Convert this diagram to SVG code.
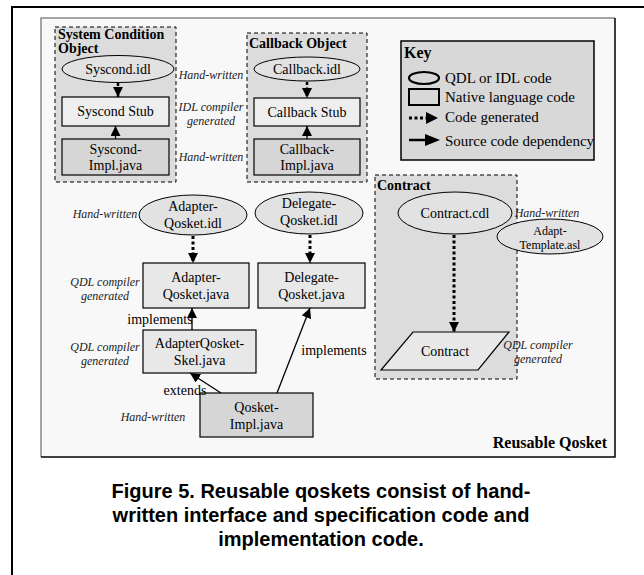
<svg xmlns="http://www.w3.org/2000/svg" width="644" height="575" viewBox="0 0 644 575">
<style>
.t{font-family:'Liberation Serif',serif;font-size:14px;fill:#000;text-anchor:middle}
.it{font-family:'Liberation Serif',serif;font-size:12px;font-style:italic;fill:#222;text-anchor:middle}
.b{font-family:'Liberation Serif',serif;font-size:14px;font-weight:bold;fill:#000}
.k{font-family:'Liberation Serif',serif;font-size:15px;fill:#000}
.grp{fill:#dcdcdc;stroke:#000;stroke-width:1;stroke-dasharray:4 3}
.ell{fill:#e2e2e2;stroke:#000;stroke-width:1}
.stub{fill:#eeeeee;stroke:#000;stroke-width:1.2}
.impl{fill:#d6d6d6;stroke:#000;stroke-width:1.2}
.gen{fill:#e8e8e8;stroke:#000;stroke-width:1.2}
.sol{stroke:#000;stroke-width:1.3;fill:none}
.dot{stroke:#000;stroke-width:3;stroke-dasharray:3 2.5;fill:none}
.cap{font-family:'Liberation Sans',Arial,sans-serif;font-size:20px;font-weight:bold;fill:#000;text-anchor:middle}
</style>
<defs>
<marker id="ah" markerUnits="userSpaceOnUse" markerWidth="10" markerHeight="10" refX="10" refY="5" orient="auto">
<path d="M0,0 L10,5 L0,10 z" fill="#000"/>
</marker>
</defs>
<rect x="0" y="0" width="644" height="575" fill="#fff"/>
<rect x="12" y="7" width="650" height="600" fill="none" stroke="#000" stroke-width="2"/>
<rect x="41" y="18" width="574" height="439" fill="#f8f8f8"/>
<path d="M41,457 L41,18 L615,18" fill="none" stroke="#888" stroke-width="1.5"/>
<path d="M41,457 L615,457 L615,18" fill="none" stroke="#000" stroke-width="1.5"/>

<g id="syscond-group">
<rect class="grp" x="55" y="27" width="121" height="155"/>
<text class="b" x="58" y="39">System Condition</text>
<text class="b" x="58" y="53">Object</text>
</g>
<g id="callback-group">
<rect class="grp" x="247" y="33" width="120" height="149"/>
<text class="b" x="249" y="48">Callback Object</text>
</g>
<g id="contract-group">
<rect class="grp" x="375" y="175" width="142" height="204"/>
<text class="b" x="377" y="190">Contract</text>
</g>

<g id="syscond-idl"><ellipse class="ell" cx="118" cy="69" rx="56" ry="13.5"/><text class="t" x="118" y="74">Syscond.idl</text></g>
<g id="syscond-stub"><rect class="stub" x="62" y="97" width="107" height="29"/><text class="t" x="115.5" y="116">Syscond Stub</text></g>
<g id="syscond-impl"><rect class="impl" x="62" y="139" width="107" height="36"/><text class="t" x="115.5" y="154">Syscond-</text><text class="t" x="115.5" y="170">Impl.java</text></g>

<g id="callback-idl"><ellipse class="ell" cx="307" cy="69" rx="53" ry="12"/><text class="t" x="307" y="74">Callback.idl</text></g>
<g id="callback-stub"><rect class="stub" x="254" y="98" width="106" height="28"/><text class="t" x="307" y="117">Callback Stub</text></g>
<g id="callback-impl"><rect class="impl" x="254" y="139" width="106" height="36"/><text class="t" x="307" y="154">Callback-</text><text class="t" x="307" y="170">Impl.java</text></g>

<g id="labels-top">
<text class="it" x="211" y="79">Hand-written</text>
<text class="it" x="211" y="111">IDL compiler</text>
<text class="it" x="211" y="125">generated</text>
<text class="it" x="211" y="161">Hand-written</text>
</g>

<g id="key">
<rect x="401" y="41" width="193" height="119" fill="#d8d8d8" stroke="#000" stroke-width="1.5"/>
<text x="404" y="58" font-family="'Liberation Serif', serif" font-size="16" font-weight="bold">Key</text>
<ellipse cx="424" cy="78" rx="15" ry="6" fill="none" stroke="#000" stroke-width="2.2"/>
<text class="k" x="445" y="83">QDL or IDL code</text>
<rect x="409" y="89" width="30" height="16" fill="none" stroke="#000" stroke-width="2"/>
<text class="k" x="445" y="102">Native language code</text>
<path d="M409,118 L426,118" stroke="#000" stroke-width="3" stroke-dasharray="3 2.5"/>
<path d="M426,112 L438,118 L426,124 z" fill="#000"/>
<text class="k" x="445" y="122">Code generated</text>
<path d="M409,140 L426,140" stroke="#000" stroke-width="2.5"/>
<path d="M425,134 L440,140 L425,146 z" fill="#000"/>
<text class="k" x="445" y="146">Source code dependency</text>
</g>

<g id="adapter-idl"><ellipse class="ell" cx="193" cy="215" rx="54" ry="20"/><text class="t" x="193" y="211">Adapter-</text><text class="t" x="193" y="228">Qosket.idl</text></g>
<g id="delegate-idl"><ellipse class="ell" cx="309" cy="213" rx="54" ry="21"/><text class="t" x="309" y="208">Delegate-</text><text class="t" x="309" y="225">Qosket.idl</text></g>
<g id="adapter-java"><rect class="gen" x="143" y="263" width="106" height="45"/><text class="t" x="196" y="282">Adapter-</text><text class="t" x="196" y="299">Qosket.java</text></g>
<g id="delegate-java"><rect class="gen" x="258" y="263" width="107" height="45"/><text class="t" x="311.5" y="282">Delegate-</text><text class="t" x="311.5" y="299">Qosket.java</text></g>
<g id="skel"><rect class="gen" x="143" y="330" width="113" height="43"/><text class="t" x="199.5" y="348">AdapterQosket-</text><text class="t" x="199.5" y="365">Skel.java</text></g>
<g id="qosket-impl"><rect class="impl" x="200" y="393" width="113" height="44"/><text class="t" x="256.5" y="412">Qosket-</text><text class="t" x="256.5" y="429">Impl.java</text></g>

<g id="contract-cdl"><ellipse class="ell" cx="455" cy="213" rx="57" ry="21"/><text class="t" x="455" y="218">Contract.cdl</text></g>
<g id="contract"><path class="gen" d="M413,332 L509,332 L478,370 L381,370 z"/><text class="t" x="445" y="356">Contract</text></g>
<g id="adapt-template"><ellipse class="ell" cx="550" cy="236.5" rx="53" ry="17.5"/><text class="t" style="font-size:12px" x="550" y="235">Adapt-</text><text class="t" style="font-size:12px" x="550" y="249">Template.asl</text></g>

<g id="labels-mid">
<text class="it" x="105" y="218">Hand-written</text>
<text class="it" x="105" y="286">QDL compiler</text>
<text class="it" x="105" y="300">generated</text>
<text class="it" x="105" y="351">QDL compiler</text>
<text class="it" x="105" y="365">generated</text>
<text class="it" x="153" y="421">Hand-written</text>
<text class="it" x="547" y="217">Hand-written</text>
<text class="it" x="538" y="349">QDL compiler</text>
<text class="it" x="538" y="363">generated</text>
<text class="t" x="160" y="324">implements</text>
<text class="t" x="185" y="395">extends</text>
<text class="t" x="334" y="355">implements</text>
<text x="607" y="448" font-family="'Liberation Serif', serif" font-size="16" font-weight="bold" text-anchor="end">Reusable Qosket</text>
</g>

<g id="connectors">
<path class="dot" d="M118,83 L118,97" marker-end="url(#ah)" style="stroke-width:2.5"/>
<path class="sol" d="M115.5,139 L115.5,126" marker-end="url(#ah)"/>
<path class="dot" d="M307,82 L307,98" marker-end="url(#ah)" style="stroke-width:2.5"/>
<path class="sol" d="M307,139 L307,126" marker-end="url(#ah)"/>
<path class="dot" d="M193,236 L193,263" marker-end="url(#ah)"/>
<path class="dot" d="M310,235 L310,263" marker-end="url(#ah)"/>
<path class="sol" d="M192,330 L192,308" marker-end="url(#ah)"/>
<path class="sol" d="M221,393 L190,373" marker-end="url(#ah)"/>
<path class="sol" d="M277,393 L310,308" marker-end="url(#ah)"/>
<path class="dot" d="M454,235 L454,332" marker-end="url(#ah)"/>
</g>

<g id="caption">
<text class="cap" x="321" y="498">Figure 5. Reusable qoskets consist of hand-</text>
<text class="cap" x="321" y="522">written interface and specification code and</text>
<text class="cap" x="321" y="546">implementation code.</text>
</g>
</svg>
